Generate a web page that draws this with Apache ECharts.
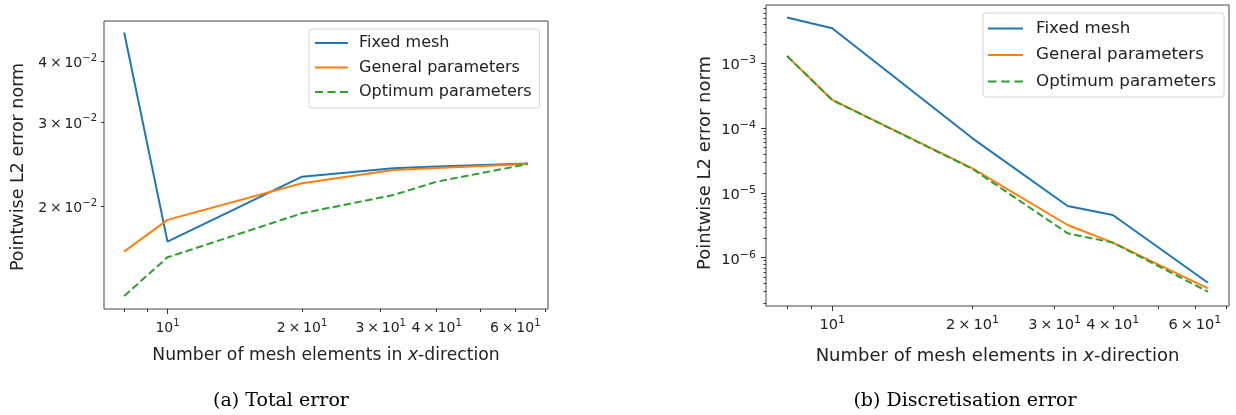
<!DOCTYPE html>
<html><head><meta charset="utf-8">
<script src="https://cdn.jsdelivr.net/npm/echarts@6/dist/echarts.min.js"></script>
<style>html,body{margin:0;padding:0;background:#fff}#c{width:1236px;height:415px}</style>
</head><body><div id="c"></div>
<script>
// ---- data ----
const meshElements = [8, 10, 20, 32, 40, 64];
const seriesNames = ['Fixed mesh', 'General parameters', 'Optimum parameters'];
const totalFixed   = [0.0460, 0.01692, 0.02309, 0.02403, 0.02423, 0.02458];
const totalGeneral = [0.01613, 0.01878, 0.02237, 0.02384, 0.02405, 0.02452];
const totalOptimum = [0.01305, 0.01570, 0.01938, 0.02114, 0.02254, 0.02452];
const discFixed    = [5.1e-3, 3.47e-3, 6.96e-5, 6.28e-6, 4.56e-6, 4.11e-7];
const discGeneral  = [1.30e-3, 2.72e-4, 2.40e-5, 3.20e-6, 1.71e-6, 3.37e-7];
const discOptimum  = [1.30e-3, 2.72e-4, 2.35e-5, 2.38e-6, 1.71e-6, 2.99e-7];
// ---- ticks ----
const xTickValues = [10, 20, 30, 40, 60];
const xTickLabels = ['10^1', '2×10^1', '3×10^1', '4×10^1', '6×10^1'];
const xMajorTickValues = [10];
const xMinorTickValues = [8, 9, 20, 30, 40, 50, 60, 70];
const totalYTickValues = [0.02, 0.03, 0.04];
const totalYTickLabels = ['2×10^\u22122', '3×10^\u22122', '4×10^\u22122'];
const discYTickValues = [1e-6, 1e-5, 1e-4, 1e-3];
const discYTickLabels = ['10^\u22126', '10^\u22125', '10^\u22124', '10^\u22123'];
const discYMinorTickValues = [2e-7,3e-7,4e-7,5e-7,6e-7,7e-7,8e-7,9e-7,
  2e-6,3e-6,4e-6,5e-6,6e-6,7e-6,8e-6,9e-6, 2e-5,3e-5,4e-5,5e-5,6e-5,7e-5,8e-5,9e-5,
  2e-4,3e-4,4e-4,5e-4,6e-4,7e-4,8e-4,9e-4, 2e-3,3e-3,4e-3,5e-3,6e-3,7e-3];
// ---- texts ----
const captions = ['(a) Total error', '(b) Discretisation error'];
const xTitle = 'Number of mesh elements in {i|x}-direction';
const yTitle = 'Pointwise L2 error norm';
const colors = ['#1f77b4', '#ff7f0e', '#2ca02c'];

// ---- helpers ----
const lg = v => Math.log10(v);
const FONT = 'DejaVu Sans';
const INK = '#222';
function toRich(s) {
  const parts = s.split('^');
  return '{m|' + parts[0].replace('×', '\u2009×\u2009') + '}{e|' + parts[1] + '}';
}
function fmt(values, labels) {
  return function (v) {
    for (let i = 0; i < values.length; i++) {
      if (Math.abs(lg(values[i]) - v) < 1e-6) return toRich(labels[i]);
    }
    return '';
  };
}
function rich(fs) {
  return {
    m: { fontSize: fs, fontFamily: FONT, color: INK, lineHeight: fs + 6 },
    e: { fontSize: Math.round(fs * 0.72), fontFamily: FONT, color: INK, verticalAlign: 'top', lineHeight: Math.round(fs * 0.8) }
  };
}
const tickStyle = { color: '#333', width: 1 };

const xMin = 0.85794, xMax = 1.85133;
const totalYMin = -1.9114, totalYMax = -1.3134;
const discYMin = -6.745, discYMax = -2.100;

function xAxes(grid, fs, nameFs, nameGap) {
  return [{
    gridIndex: grid, type: 'value', position: 'bottom', min: xMin, max: xMax,
    axisLine: { show: false }, splitLine: { show: false },
    axisTick: { show: true, customValues: xMajorTickValues.map(lg), length: 5, lineStyle: tickStyle },
    axisLabel: { customValues: xTickValues.map(lg), formatter: fmt(xTickValues, xTickLabels), margin: 9, rich: rich(fs) },
    name: xTitle, nameLocation: 'middle', nameGap: nameGap,
    nameTextStyle: { fontSize: nameFs, fontFamily: FONT, color: INK, rich: { i: { fontSize: nameFs, fontFamily: FONT, color: INK, fontStyle: 'italic' } } }
  }, {
    gridIndex: grid, type: 'value', position: 'bottom', min: xMin, max: xMax,
    axisLine: { show: false }, splitLine: { show: false },
    axisTick: { show: true, customValues: xMinorTickValues.map(lg), length: 3, lineStyle: tickStyle },
    axisLabel: { show: false }
  }];
}

const option = {
  animation: false,
  backgroundColor: '#fff',
  grid: [
    { left: 104, top: 21, width: 444, height: 288, show: true, borderColor: '#444', borderWidth: 1, backgroundColor: 'transparent' },
    { left: 766, top: 5, width: 463, height: 301, show: true, borderColor: '#444', borderWidth: 1, backgroundColor: 'transparent' }
  ],
  xAxis: [].concat(xAxes(0, 14, 17.2, 38), xAxes(1, 14.6, 18, 41)),
  yAxis: [
    {
      gridIndex: 0, type: 'value', position: 'left', min: totalYMin, max: totalYMax,
      axisLine: { show: false }, splitLine: { show: false },
      axisTick: { show: true, customValues: totalYTickValues.map(lg), length: 3, lineStyle: tickStyle },
      axisLabel: { customValues: totalYTickValues.map(lg), formatter: fmt(totalYTickValues, totalYTickLabels), margin: 7, rich: rich(14), padding: [4, 0, 0, 0] },
      name: yTitle, nameLocation: 'middle', nameGap: 77,
      nameTextStyle: { fontSize: 17.5, fontFamily: FONT, color: INK, padding: [0, 4, 0, 0] }
    },
    {
      gridIndex: 1, type: 'value', position: 'left', min: discYMin, max: discYMax,
      axisLine: { show: false }, splitLine: { show: false },
      axisTick: { show: true, customValues: discYTickValues.map(lg), length: 5, lineStyle: tickStyle },
      axisLabel: { customValues: discYTickValues.map(lg), formatter: fmt(discYTickValues, discYTickLabels), margin: 10, rich: rich(14.6), padding: [4, 0, 0, 0] },
      name: yTitle, nameLocation: 'middle', nameGap: 52,
      nameTextStyle: { fontSize: 18, fontFamily: FONT, color: INK, padding: [0, 15, 0, 0] }
    },
    {
      gridIndex: 1, type: 'value', position: 'left', min: discYMin, max: discYMax,
      axisLine: { show: false }, splitLine: { show: false },
      axisTick: { show: true, customValues: discYMinorTickValues.map(lg), length: 2.5, lineStyle: tickStyle },
      axisLabel: { show: false }
    }
  ],
  legend: [
    {
      left: 309, top: 29, orient: 'vertical', selectedMode: false,
      padding: [6, 8, 8, 6], itemGap: 8.5, itemWidth: 33, itemHeight: 2, symbolKeepAspect: false,
      backgroundColor: '#fff', borderColor: '#d4d4d4', borderWidth: 1, borderRadius: 3,
      textStyle: { fontSize: 16, fontFamily: FONT, color: INK, padding: [0, 0, 0, 6] },
      data: [
        { name: seriesNames[0], icon: 'path://M0,0h33v2h-33z' },
        { name: seriesNames[1], icon: 'path://M0,0h33v2h-33z' },
        { name: seriesNames[2], icon: 'path://M0,0h8v2h-8zM12.5,0h8v2h-8zM25,0h8v2h-8z' }
      ]
    },
    {
      left: 983, top: 13, orient: 'vertical', selectedMode: false,
      padding: [7, 8, 7, 5], itemGap: 9.5, itemWidth: 35, itemHeight: 2, symbolKeepAspect: false,
      backgroundColor: '#fff', borderColor: '#d4d4d4', borderWidth: 1, borderRadius: 3,
      textStyle: { fontSize: 16.7, fontFamily: FONT, color: INK, padding: [0, 0, 0, 8] },
      data: [
        { name: seriesNames[0], icon: 'path://M0,0h35v2h-35z' },
        { name: seriesNames[1], icon: 'path://M0,0h35v2h-35z' },
        { name: seriesNames[2], icon: 'path://M0,0h8.5v2h-8.5zM13.25,0h8.5v2h-8.5zM26.5,0h8.5v2h-8.5z' }
      ]
    }
  ],
  graphic: [
    { type: 'text', x: 281, y: 401, style: { text: captions[0], fontSize: 19, fontFamily: 'DejaVu Serif', fill: '#000', align: 'center', verticalAlign: 'middle' } },
    { type: 'text', x: 965, y: 401, style: { text: captions[1], fontSize: 19, fontFamily: 'DejaVu Serif', fill: '#000', align: 'center', verticalAlign: 'middle' } }
  ],
  series: []
};

const groups = [
  { x: 0, y: 0, sets: [totalFixed, totalGeneral, totalOptimum] },
  { x: 2, y: 1, sets: [discFixed, discGeneral, discOptimum] }
];
groups.forEach(g => {
  g.sets.forEach((vals, k) => {
    option.series.push({
      type: 'line', name: seriesNames[k], xAxisIndex: g.x, yAxisIndex: g.y,
      data: meshElements.map((m, i) => [lg(m), lg(vals[i])]),
      symbol: 'none', color: colors[k], itemStyle: { color: colors[k] },
      lineStyle: { width: 2, color: colors[k], type: k === 2 ? [7.5, 3.5] : 'solid' }
    });
  });
});

const chart = echarts.init(document.getElementById('c'), null, { renderer: 'canvas' });
chart.setOption(option);
</script>
</body></html>
